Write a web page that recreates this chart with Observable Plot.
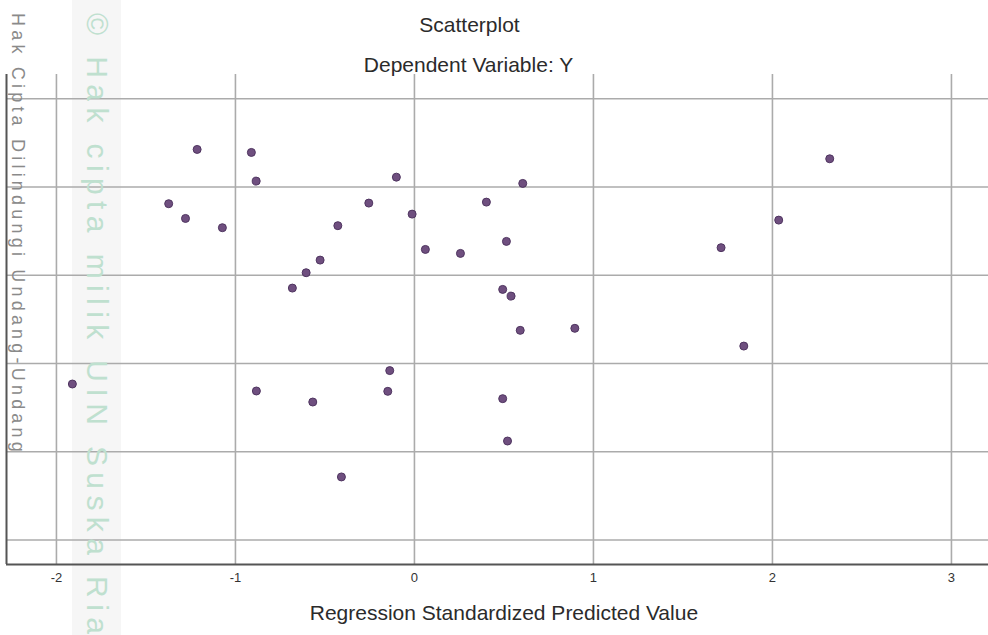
<!DOCTYPE html>
<html><head><meta charset="utf-8">
<script src="https://cdn.jsdelivr.net/npm/d3@7"></script>
<script src="https://cdn.jsdelivr.net/npm/@observablehq/plot@0.6"></script>
<style>
html,body{margin:0;padding:0;background:#fff;}
#chart{width:988px;height:635px;overflow:hidden;}
</style></head><body><div id="chart"></div>
<script>
const titleText = "Scatterplot";
const subtitleText = "Dependent Variable: Y";
const xLabelText = "Regression Standardized Predicted Value";
const watermarkLeft = "Hak Cipta Dilindungi Undang-Undang";
const watermarkCenter = "\u00A9 Hak cipta milik UIN Suska Riau";

const predicted = [-1.911, -1.373, -1.279, -1.214, -1.073, -0.911, -0.884, -0.883, -0.682, -0.605, -0.527, -0.568, -0.428, -0.408, -0.255, -0.138, -0.149, -0.101, -0.013, 0.061, 0.257, 0.402, 0.493, 0.514, 0.493, 0.540, 0.520, 0.605, 0.591, 0.896, 1.713, 1.840, 2.035, 2.320];
const residual = [-1.232, 0.811, 0.644, 1.426, 0.539, 1.392, 1.067, -1.311, -0.145, 0.029, 0.172, -1.436, 0.562, -2.285, 0.818, -1.080, -1.315, 1.112, 0.693, 0.293, 0.248, 0.829, -0.160, 0.384, -1.398, -0.236, -1.878, 1.041, -0.624, -0.601, 0.313, -0.802, 0.625, 1.320];

const xTicks = [-2, -1, 0, 1, 2, 3];
const xTickLabels = ["-2", "-1", "0", "1", "2", "3"];
const yGrid = [-3, -2, -1, 0, 1, 2];
const xDomain = [-2.279, 3.207];
const yDomain = [-3.277, 2.275];

const points = predicted.map((x, i) => ({x, y: residual[i]}));
const ticks = xTicks.map((v, i) => ({v, label: xTickLabels[i]}));
const font = "'Liberation Sans', Arial, Helvetica, sans-serif";

const chart = Plot.plot({
  width: 988, height: 635,
  marginLeft: 6, marginRight: 0, marginTop: 74, marginBottom: 71,
  style: {background: "#fff", fontFamily: font},
  x: {domain: xDomain, axis: null},
  y: {domain: yDomain, axis: null},
  marks: [
    Plot.gridX(xTicks, {stroke: "#ababab", strokeOpacity: 1, strokeWidth: 1.6}),
    Plot.gridY(yGrid, {stroke: "#ababab", strokeOpacity: 1, strokeWidth: 1.6}),
    Plot.ruleX([xDomain[0]], {stroke: "#555", strokeWidth: 2}),
    Plot.ruleY([yDomain[0]], {stroke: "#555", strokeWidth: 2}),
    Plot.dot(points, {x: "x", y: "y", r: 4, fill: "#6f4f7f", stroke: "#4f3560", strokeWidth: 1}),
    Plot.text(ticks, {x: "v", text: "label", frameAnchor: "bottom", dy: 17, fontSize: 13, fill: "#333"}),
    Plot.text([titleText], {frameAnchor: "top", dx: -28, dy: -57, fontSize: 21, fill: "#2b2b2b"}),
    Plot.text([subtitleText], {frameAnchor: "top", dx: -29, dy: -17.5, fontSize: 21, fill: "#2b2b2b"}),
    Plot.text([xLabelText], {frameAnchor: "bottom", dx: 6.4, dy: 55.5, fontSize: 21, fill: "#2b2b2b"})
  ]
});

const svg = d3.select(chart);
svg.insert("rect", ":first-child")
  .attr("x", 72).attr("y", 0).attr("width", 49).attr("height", 635)
  .attr("fill", "#f6f6f6");
svg.append("text")
  .attr("transform", "translate(12,13) rotate(90)")
  .attr("text-anchor", "start")
  .attr("font-family", font).attr("font-size", 18).attr("letter-spacing", 4.2)
  .attr("fill", "#8a8a8a").text(watermarkLeft);
svg.append("text")
  .attr("transform", "translate(87,13) rotate(90)")
  .attr("text-anchor", "start")
  .attr("font-family", font).attr("font-size", 30).attr("letter-spacing", 6.4)
  .attr("fill", "#bfe0cf").text(watermarkCenter);

document.getElementById("chart").appendChild(chart);
</script></body></html>
